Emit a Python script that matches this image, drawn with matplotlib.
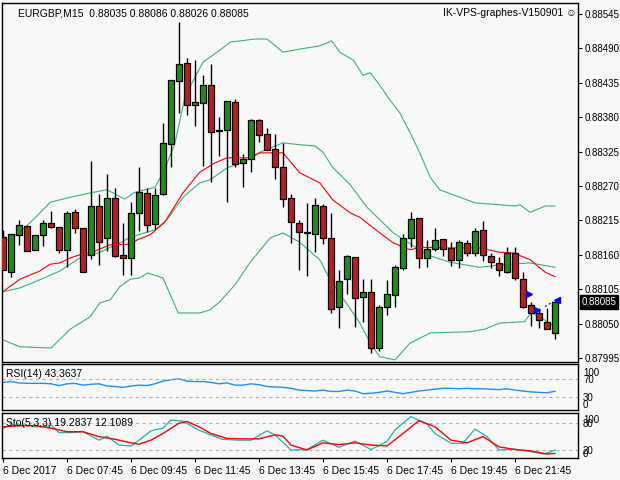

import numpy as np
import matplotlib
matplotlib.use("Agg")
import matplotlib.pyplot as plt
plt.rcParams['font.family'] = ['Liberation Sans', 'DejaVu Sans']

BASE = 0.88
op = [188,132,192,206,168,192,211,204,168,228,203,160,238,187,251,160,155,227,259,209,257,337,438,467,400,403,431,358,360,404,307,313,376,353,329,300,251,211,195,193,238,187,77,121,156,93,101,11,77,96,139,187,219,155,169,185,171,152,179,163,200,158,147,132,163,121,80,67,53,35]
hi = [200,193,216,206,192,216,230,204,230,233,203,310,257,289,267,211,244,300,267,267,371,439,532,475,471,447,465,380,406,409,321,377,377,363,353,339,257,216,243,251,241,227,136,160,156,121,121,80,120,144,193,228,219,184,203,185,180,184,184,203,214,163,156,172,172,132,85,75,75,86]
lo = [136,125,176,166,168,174,203,163,140,195,132,153,144,166,156,128,128,198,196,201,256,300,387,384,366,302,276,318,244,300,268,292,340,328,281,236,179,136,126,164,177,67,43,97,45,53,3,6,64,77,136,172,139,140,166,158,142,139,158,158,150,139,126,131,120,75,46,43,41,26]
cl = [136,193,208,166,192,211,204,168,227,203,132,238,180,251,158,155,227,260,208,256,339,439,465,400,404,431,356,360,406,305,313,376,352,328,300,249,212,196,196,240,187,73,118,158,91,101,11,77,97,140,187,217,155,169,184,169,152,180,163,198,160,148,136,163,123,77,67,56,41,85]
op = [BASE + v/1e5 for v in op]; hi = [BASE + v/1e5 for v in hi]
lo = [BASE + v/1e5 for v in lo]; cl = [BASE + v/1e5 for v in cl]

up_x = [0.0,2.1,4.0,5.9,8.4,10.9,13.0,15.2,16.5,19.0,20.2,21.5,22.8,25.0,27.1,28.4,31.5,33.0,35.0,37.1,39.6,41.1,42.1,43.8,45.0,45.9,47.1,48.4,49.6,50.9,52.1,53.4,54.6,57.1,59.0,62.1,64.0,64.6,65.9,67.8,69.0]
up_v = [179,196,219,244,252,259,264,249,260,268,296,339,415,468,487,500,505,505,484,489,494,502,484,471,447,451,431,407,387,355,323,284,264,252,243,240,238,240,228,238,238]
mid_x = [0.0,2.1,4.6,7.1,9.6,12.1,14.6,15.9,19.0,20.5,22.5,24.6,25.9,28.0,30.0,32.1,35.0,37.1,39.0,40.0,41.2,43.4,45.5,48.8,53.0,55.9,59.6,62.1,65.9,69.0]
mid_v = [101,107,120,134,155,164,179,188,200,216,252,275,280,299,308,324,339,336,334,324,300,272,236,195,160,148,140,144,147,140]
low_x = [0,2.1,6,8.4,10.9,12.1,13.4,14.6,15.9,17.1,18.1,20,21.9,24.6,25.9,27.1,29,30.9,33.4,35,37.1,39.6,40.9,42.8,44.6,45.9,47.1,49,50.9,53.4,58.4,60.2,62.1,65.2,66,67.1,69]
low_v = [24,13,11,41,61,83,88,109,121,123,131,123,67,67,72,85,112,148,187,195,180,152,120,85,51,19,-3,-8,19,35,37,41,51,53,67,61,45]
ma_x = [0,2.1,4.6,5.9,7.1,8.4,9.6,10.9,13.4,15.9,16.8,18.4,20.2,22.5,24.6,26.5,28,30.9,32.1,35,37.1,39.6,41.2,43.4,44.6,47.1,48.8,50.9,52.1,55.9,59.6,62.1,63.8,65.9,67.8,69]
ma_v = [101,121,134,145,147,155,160,163,176,177,184,192,212,259,292,307,315,315,323,323,291,275,248,227,220,195,179,168,172,171,171,164,163,152,132,125]

rsi = [63,65,62,61,61,61,60,56,60,61,57,59,60,55,54,52,55,57,56,60,66,69,71,66,65,65,63,60,62,57,57,60,58,54,53,52,50,46,45,44,46,43,43,46,44,38,39,41,44,41,38,41,44,46,48,50,50,49,50,49,49,48,47,49,46,44,42,41,40,43.36]
stk_x = [0,1,2.6,4,5,6,7,8.5,10,12,13,14.5,16,17,18.5,20,21,22.5,24.4,26,27.4,29.4,31,33,34,36,38,40,42,44,46,48,49,51,53,54,56,57.5,59,60.5,62,64,66,67.6,69]
stk_v = [69,76,76,72,72,76,59,59,61,42,51,31,29,42,63,69,87,85,65,54,44,42,42,63,54,20,21,42,26,40,21,39,65,95,78,57,35,35,67,50,20,22,16,11,19.28]
sig_x = [0,2,4,6,8,10,12,14,16,17,18.5,20,22,23,24.5,26,28,30,32,34,35,36,38,40,42,44,46,48,50,52,54,56,58,60,62,64,66,68,69]
sig_v = [72,74,75,69,61,61,50,44,36,33,42,57,80,84,72,57,46,45,45,54,51,31,20,36,32,36,31,29,57,86,72,42,36,50,27,21,18,11,12.11]

time_labels = ["6 Dec 2017","6 Dec 07:45","6 Dec 09:45","6 Dec 11:45","6 Dec 13:45","6 Dec 15:45","6 Dec 17:45","6 Dec 19:45","6 Dec 21:45"]
price_ticks = [0.88545,0.88490,0.88435,0.88380,0.88325,0.88270,0.88215,0.88160,0.88105,0.88050,0.87995]

BG = "#f8f8f8"
FS = 7.5
PFS = 7
W, H = 620, 480
fig = plt.figure(figsize=(6.2, 4.8), dpi=100, facecolor=BG)
def axpx(x0, y0, x1, y1):
    return fig.add_axes([x0/W, 1-y1/H, (x1-x0)/W, (y1-y0)/H], facecolor=BG)
ax = axpx(2, 3, 578, 362)
ar = axpx(2, 364, 578, 410)
ast = axpx(2, 413, 578, 458)
xl = (-0.125, 71.875)
n = len(op)
idx = np.arange(n)
for a in (ax, ar, ast):
    a.set_xlim(*xl)
    for s in a.spines.values():
        s.set_color("black"); s.set_linewidth(1)
    a.tick_params(left=False, labelleft=False, bottom=False, labelbottom=False,
                  right=True, labelright=True, direction="out", length=3, labelsize=PFS, pad=2)
    a.yaxis.set_ticks_position("right")

ax.set_ylim(0.879886, 0.885626)
for xs, vs, c in ((up_x, up_v, "#3cb371"), (mid_x, mid_v, "#3cb371"), (low_x, low_v, "#3cb371"), (ma_x, ma_v, "red")):
    ax.plot(xs, [BASE+v/1e5 for v in vs], color=c, lw=0.8)
for i in range(n):
    ax.vlines(i, lo[i], hi[i], color="black", lw=1, zorder=3)
    bull = cl[i] >= op[i]
    b0, b1 = min(op[i], cl[i]), max(op[i], cl[i])
    hgt = max(b1-b0, 0.000015)
    ax.add_patch(plt.Rectangle((i-0.32, b0), 0.64, hgt, facecolor="#228b22" if bull else "#b22222",
                               edgecolor="black", lw=0.9, zorder=4))
ax.set_yticks(price_ticks)
ax.set_yticklabels(["%.5f" % t for t in price_ticks])
ax.plot([65.75], [0.88097], marker=">", color="blue", ms=5, zorder=5)
ax.plot([66.75], [0.88072], marker=">", color="blue", ms=5, zorder=5)
ax.plot([67.75, 68.75], [0.88077, 0.88085], color="blue", lw=0.8, ls=(0, (2, 2)), zorder=5)
ax.plot([69.2], [0.88087], marker="<", color="blue", ms=5, zorder=5)
ax.text(1.006, (cl[-1]-0.879886)/(0.885626-0.879886), "%.5f" % cl[-1], transform=ax.transAxes,
        fontsize=PFS, color="white", va="center", ha="left",
        bbox=dict(boxstyle="square,pad=0.2", fc="black", ec="black"), zorder=10, clip_on=False)
ax.text(16/576, 0.972, "EURGBP,M15  0.88035 0.88086 0.88026 0.88085", transform=ax.transAxes,
        fontsize=FS, va="center", ha="left")
ax.text(0.998, 0.972, "IK-VPS-graphes-V150901 \u263a", transform=ax.transAxes,
        fontsize=FS, va="center", ha="right")

ar.set_ylim(1.8, 104)
ar.plot(idx, rsi, color="#1e90ff", lw=1)
for lv in (70, 30):
    ar.axhline(lv, color="#b0b0b0", lw=0.8, ls=(0, (3, 3)))
ar.set_yticks([])
for lab, ypx in (("100", 373), ("70", 380), ("30", 398), ("0", 405)):
    fig.text(583/W, 1-ypx/H, lab, fontsize=PFS, va="center", ha="left")
ar.text(4/576, 0.78, "RSI(14) 43.3637", transform=ar.transAxes, fontsize=FS, va="center")

ast.set_ylim(2, 103)
for lv in (80, 20):
    ast.axhline(lv, color="#b0b0b0", lw=0.8, ls=(0, (3, 3)))
ast.plot(stk_x, stk_v, color="#20b2aa", lw=0.9)
ast.plot(sig_x, sig_v, color="red", lw=1)
ast.set_yticks([])
for lab, ypx in (("100", 420), ("80", 424), ("20", 451), ("0", 454)):
    fig.text(583/W, 1-ypx/H, lab, fontsize=PFS, va="center", ha="left")
ast.text(4/576, 0.78, "Sto(5,3,3) 19.2837 12.1089", transform=ast.transAxes, fontsize=FS, va="center")
ast.tick_params(bottom=True, labelbottom=True, length=3, direction="out", labelsize=FS, pad=3)
ast.set_xticks(np.arange(0, n, 8))
ast.set_xticklabels(time_labels, ha="left")

fig.savefig("out.png", dpi=100, facecolor=BG)
